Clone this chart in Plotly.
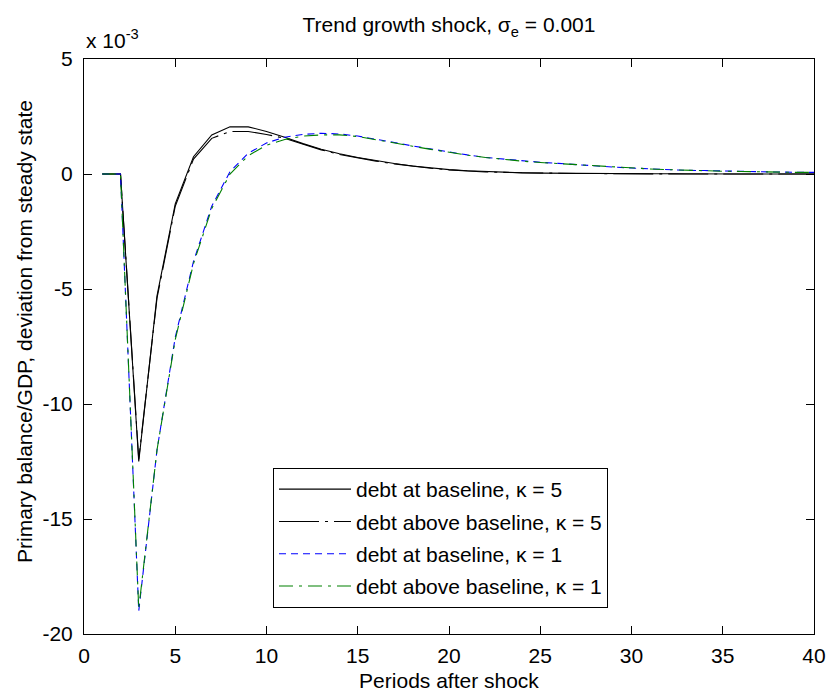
import plotly.graph_objects as go

# Impulse responses of the primary balance/GDP ratio (units of 1e-3)
periods = list(range(1, 41))

k5_base = [0, 0, -12.5, -5.3, -1.3, 0.75, 1.7, 2.05, 2.05, 1.85,
           1.6, 1.32, 1.08, 0.88, 0.72, 0.58, 0.46, 0.35, 0.26, 0.19,
           0.14, 0.1, 0.07, 0.05, 0.04, 0.03, 0.02, 0.02, 0.01, 0.01,
           0.01, 0.01, 0, 0, 0, 0, 0, 0, 0, 0]

k5_above = [0, 0, -12.4, -5.4, -1.4, 0.65, 1.55, 1.85, 1.85, 1.72,
            1.55, 1.3, 1.05, 0.85, 0.7, 0.56, 0.44, 0.34, 0.25, 0.18,
            0.13, 0.09, 0.07, 0.05, 0.04, 0.03, 0.02, 0.02, 0.01, 0.01,
            0.01, 0.01, 0, 0, 0, 0, 0, 0, 0, 0]

k1_base = [0, 0, -19.0, -12.0, -7.1, -3.8, -1.4, 0.1, 0.9, 1.35,
           1.6, 1.72, 1.77, 1.74, 1.65, 1.52, 1.37, 1.22, 1.08, 0.95,
           0.83, 0.72, 0.64, 0.57, 0.51, 0.46, 0.4, 0.34, 0.3, 0.26,
           0.22, 0.19, 0.16, 0.15, 0.13, 0.11, 0.09, 0.08, 0.07, 0.07]

k1_above = [0, 0, -18.9, -12.0, -7.2, -3.9, -1.5, 0.0, 0.8, 1.25,
            1.5, 1.65, 1.7, 1.7, 1.63, 1.5, 1.36, 1.21, 1.07, 0.94,
            0.82, 0.72, 0.63, 0.56, 0.5, 0.45, 0.39, 0.34, 0.3, 0.25,
            0.22, 0.19, 0.16, 0.14, 0.12, 0.11, 0.09, 0.08, 0.07, 0.07]

series_names = [
    "debt at baseline, κ = 5",
    "debt above baseline, κ = 5",
    "debt at baseline, κ = 1",
    "debt above baseline, κ = 1",
]

x_ticks = [0, 5, 10, 15, 20, 25, 30, 35, 40]
y_ticks = [-20, -15, -10, -5, 0, 5]
y_tick_labels = ["-20", "-15", "-10", "-5", "0", "5"]

FONT = "Liberation Sans, Arial, sans-serif"
FS = 21

styles = [
    dict(color="#000000", width=1.1, dash="solid"),
    dict(color="#000000", width=1.1, dash="40px,6px,3px,6px"),
    dict(color="#0000ff", width=1.1, dash="7px,5px"),
    dict(color="#008000", width=1.1, dash="14px,6px,3px,6px"),
]

fig = go.Figure()
for i, (vals, name, st) in enumerate(zip([k5_base, k5_above, k1_base, k1_above],
                                          series_names, styles)):
    fig.add_trace(go.Scatter(
        x=periods, y=vals, mode="lines", name=name,
        line=st, legendgroup=f"g{i}",
    ))

axis_common = dict(
    showline=True, linecolor="black", linewidth=1, mirror="ticks",
    ticks="inside", ticklen=8, tickwidth=1, tickcolor="black",
    showgrid=False, zeroline=False, automargin=False,
    tickfont=dict(family=FONT, size=FS, color="black"),
)

L, R, T, B = 84, 14, 59, 59
PW = 828 - L - R
PH = 693 - T - B

fig.update_layout(
    width=828, height=693,
    margin=dict(l=L, r=R, t=T, b=B, pad=0, autoexpand=False),
    paper_bgcolor="white", plot_bgcolor="white",
    font=dict(family=FONT, size=FS, color="black"),
    title=dict(
        text="Trend growth shock, σ<sub>e</sub> = 0.001",
        x=0.5, xref="paper", xanchor="center",
        y=1 - 25 / 693, yref="container", yanchor="middle",
        font=dict(family=FONT, size=FS, color="black"),
    ),
    xaxis=dict(
        range=[0, 40], tickvals=x_ticks,
        ticklabelstandoff=3,
        title=dict(text="Periods after shock", standoff=7,
                   font=dict(family=FONT, size=FS)),
        **axis_common,
    ),
    yaxis=dict(
        range=[-20, 5], tickvals=y_ticks, ticktext=y_tick_labels,
        ticklabelstandoff=6,
        **axis_common,
    ),
    legend=dict(
        x=(273 - L) / PW, y=(693 - B - 468) / PH,
        xanchor="left", yanchor="top",
        bgcolor="white", bordercolor="black", borderwidth=1,
        font=dict(family=FONT, size=FS, color="black"),
        itemwidth=72, tracegroupgap=2,
    ),
    showlegend=True,
)

# Exponent note for the y values
fig.add_annotation(
    text="x 10<sup>-3</sup>", xref="paper", yref="paper",
    x=0, y=1, xanchor="left", yanchor="bottom", yshift=5,
    showarrow=False, font=dict(family=FONT, size=FS, color="black"),
)

# Vertical axis label
fig.add_annotation(
    text="Primary balance/GDP, deviation from steady state",
    xref="paper", yref="paper",
    x=-(L - 24) / PW, y=(693 - B - 332) / PH,
    xanchor="center", yanchor="middle", textangle=-90,
    showarrow=False, font=dict(family=FONT, size=FS, color="black"),
)

fig.write_html("out.html")
